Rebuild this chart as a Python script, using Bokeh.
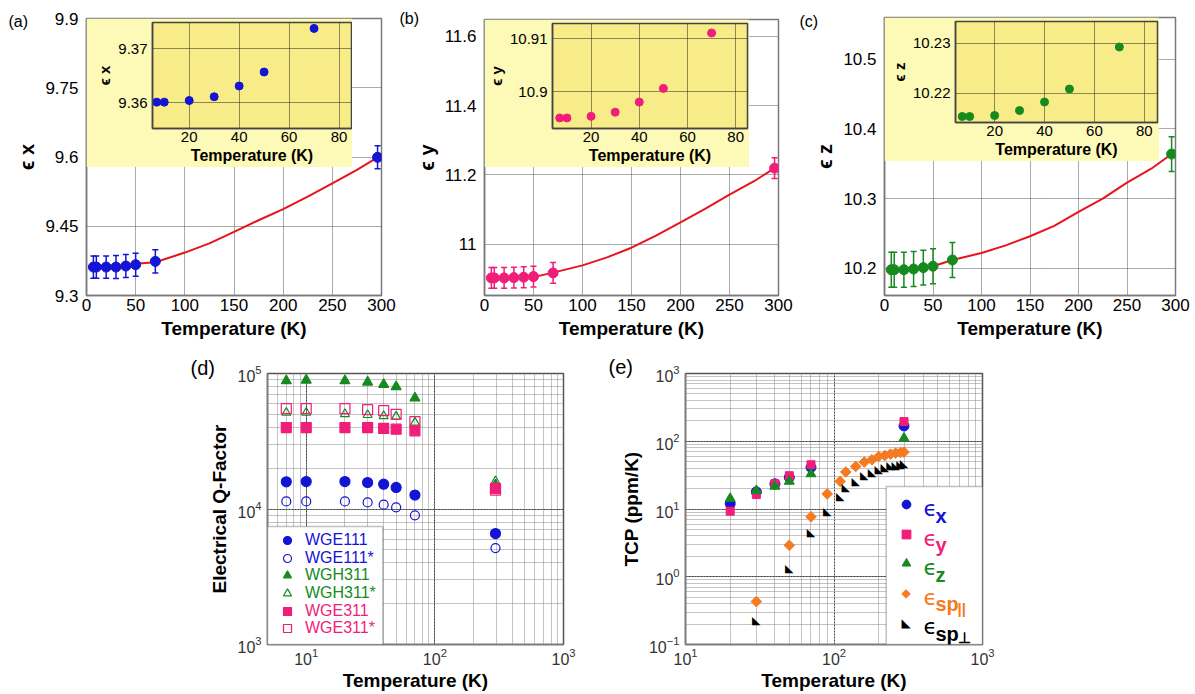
from bokeh.plotting import figure
from bokeh.models import (ColumnDataSource, Whisker, TeeHead, Label, Legend, LegendItem,
                          BoxAnnotation, GridBox, FixedTicker, Range1d,
                          CustomJSTickFormatter, LogTickFormatter)
from bokeh.layouts import column, row
from bokeh.embed import file_html
from bokeh.resources import INLINE
from bokeh.core.properties import value

# ---------------- data ----------------
T_main = [7, 10, 20, 30, 40, 50, 70, 296]
eps_x = [9.3616, 9.3616, 9.3616, 9.3616, 9.3638, 9.3667, 9.3739, 9.5993]
eps_x_err = [0.024, 0.024, 0.024, 0.025, 0.025, 0.025, 0.025, 0.025]
eps_y = [10.9027, 10.9027, 10.9027, 10.9037, 10.9047, 10.9066, 10.9171, 11.2197]
eps_y_err = [0.030, 0.030, 0.030, 0.030, 0.030, 0.030, 0.030, 0.030]
eps_z = [10.198, 10.198, 10.198, 10.199, 10.201, 10.203, 10.212, 10.364]
eps_z_err = [0.025, 0.025, 0.025, 0.025, 0.025, 0.025, 0.025, 0.025]

fit_T = [50, 70, 100, 125, 150, 175, 200, 225, 250, 275, 296]
fit_x = [9.369, 9.372, 9.393, 9.413, 9.438, 9.463, 9.487, 9.514, 9.543, 9.572, 9.599]
fit_y = [10.905, 10.918, 10.939, 10.962, 10.990, 11.025, 11.063, 11.102, 11.143, 11.182, 11.220]
fit_z = [10.203, 10.212, 10.222, 10.233, 10.246, 10.261, 10.281, 10.300, 10.323, 10.343, 10.364]

T_inset = [7, 10, 20, 30, 40, 50, 70]
inset_x = [9.3601, 9.3601, 9.3604, 9.3611, 9.3631, 9.3657, 9.3738]
inset_y = [10.8950, 10.8950, 10.8953, 10.8961, 10.8980, 10.9006, 10.9111]
inset_z = [10.2153, 10.2153, 10.2155, 10.2165, 10.2182, 10.2208, 10.2292]

x_ticks_main = [0, 50, 100, 150, 200, 250, 300]
a_yticks = [9.3, 9.45, 9.6, 9.75, 9.9]
b_yticks = [11.0, 11.2, 11.4, 11.6]
c_yticks = [10.2, 10.3, 10.4, 10.5]
inset_xticks = [20, 40, 60, 80]
a_inset_yticks = [9.36, 9.37]
b_inset_yticks = [10.9, 10.91]
c_inset_yticks = [10.22, 10.23]

# (d) Q-factor
T_q = [7, 10, 20, 30, 40, 50, 70, 296]
q_names = ["WGE111", "WGE111*", "WGH311", "WGH311*", "WGE311", "WGE311*"]
q_wge111 = [15870, 15950, 15950, 15690, 15250, 14420, 12670, 6590]
q_wge111s = [11380, 11380, 11380, 11190, 10760, 10285, 8985, 5146]
q_wgh311 = [88300, 89300, 88300, 86300, 82980, 79800, 65900, 15000]
q_wgh311s = [51400, 51400, 50300, 49500, 48600, 48100, 43450, 16000]
q_wge311 = [39900, 39900, 39900, 39900, 39300, 38800, 37750, 14190]
q_wge311s = [55070, 55070, 55070, 54080, 53150, 50000, 44170, 13800]

# (e) TCP
T_e = [20, 30, 40, 50, 70, 296]
tcp_x = [12.0, 17.9, 23.5, 29.3, 41.1, 168]
tcp_y = [9.3, 16.3, 23.6, 31.0, 45.0, 195]
tcp_z = [14.3, 18.6, 21.6, 25.6, 33.0, 111]
T_sp = [30, 50, 70, 90, 110, 120, 140, 160, 180, 200, 220, 240, 260, 280, 296]
tcp_sp_par = [0.43, 2.91, 7.67, 16.7, 25.6, 35.2, 42.5, 49.3, 53.3, 59.6, 61.6, 64.6, 66.8, 68.2, 69.2]
T_sp_perp = [30, 50, 70, 90, 110, 120, 140, 160, 180, 200, 220, 240, 260, 280, 296]
tcp_sp_perp = [0.225, 1.32, 4.47, 9.3, 15.1, 20.5, 25.6, 31.0, 34.7, 38.9, 41.1, 43.5, 44.6, 46.1, 47.7]

e_x_major = [10, 100, 1000]
e_x_minor = [20, 30, 40, 50, 60, 70, 80, 90, 200, 300, 400, 500, 600, 700, 800, 900]

# ---------------- style ----------------
FONT = "Liberation Sans"
BLUE = "#1414d4"
PINK = "#f01e78"
GREEN = "#168a1e"
ORANGE = "#f47b20"
RED = "#e8141c"
FRAME = "#7a7a7a"
Y_OUT = "#fdf9b6"
Y_IN = "#f7ec88"


def style_axes(p, tick_size, label_size, tick_color="black"):
    for ax in list(p.xaxis) + list(p.yaxis):
        ax.major_label_text_font = FONT
        ax.major_label_text_font_size = tick_size
        ax.major_label_text_color = tick_color
        ax.axis_label_text_font = FONT
        ax.axis_label_text_font_size = label_size
        ax.axis_label_text_font_style = "bold"
        ax.axis_label_text_color = "black"
        ax.axis_line_color = FRAME
        ax.axis_line_width = 1.5
        ax.major_tick_out = 0
        ax.major_tick_in = 0
        ax.minor_tick_out = 0
        ax.minor_tick_in = 0
        ax.major_label_standoff = 4
        ax.axis_label_standoff = 4


def add_tag(p, text, x, y, size):
    # placed in the "above" side panel (not clipped to the frame)
    p.add_layout(Label(x=x, y=y, x_units="screen", y_units="screen", text=text,
                       text_font=FONT, text_font_size=size, text_baseline="top",
                       text_color="black"), "above")


def main_panel(w, bl, br, bt, yr, yticks, ylabel, vals, errs, fitv, color):
    H, BB = 344, 49
    p = figure(width=w, height=H, x_range=Range1d(0, 300), y_range=Range1d(*yr),
               output_backend="svg", toolbar_location=None,
               min_border_left=bl, min_border_right=br, min_border_top=bt, min_border_bottom=BB)
    p.xaxis.ticker = FixedTicker(ticks=x_ticks_main)
    p.yaxis.ticker = FixedTicker(ticks=yticks)
    p.yaxis.formatter = CustomJSTickFormatter(code="return String(tick);")
    p.xaxis.axis_label = "Temperature (K)"
    p.yaxis.axis_label = ylabel
    style_axes(p, "17px", "19px")
    p.yaxis.major_label_standoff = 8
    p.yaxis.axis_label_text_font_size = "20px"
    p.xaxis.major_label_standoff = 3
    p.outline_line_color = FRAME
    p.outline_line_width = 1.5
    for g in (p.xgrid, p.ygrid):
        g.grid_line_color = "#555555"
        g.grid_line_dash = "1 1"
        g.grid_line_width = 1
    src = ColumnDataSource(dict(x=T_main, y=vals,
                                lo=[v - e for v, e in zip(vals, errs)],
                                hi=[v + e for v, e in zip(vals, errs)]))
    p.add_layout(Whisker(source=src, base="x", lower="lo", upper="hi",
                         line_color=color, line_width=1.5,
                         upper_head=TeeHead(size=6, line_color=color, line_width=1.5),
                         lower_head=TeeHead(size=6, line_color=color, line_width=1.5)))
    p.line(fit_T, fitv, line_color=RED, line_width=2)
    p.scatter("x", "y", source=src, size=10, color=color)
    return p


def inset_panel(w, h, bl, br, xr, yr, yticks, ylabel, vals, color):
    p = figure(width=w, height=h, x_range=Range1d(*xr), y_range=Range1d(*yr),
               output_backend="svg", toolbar_location=None,
               min_border_left=bl, min_border_right=br, min_border_top=4, min_border_bottom=39)
    p.border_fill_color = Y_OUT
    p.background_fill_color = Y_IN
    p.outline_line_color = "#444444"
    p.outline_line_width = 1.5
    p.xaxis.ticker = FixedTicker(ticks=inset_xticks)
    p.yaxis.ticker = FixedTicker(ticks=yticks)
    p.yaxis.formatter = CustomJSTickFormatter(code="return String(tick);")
    p.xaxis.axis_label = "Temperature (K)"
    p.yaxis.axis_label = ylabel
    style_axes(p, "15px", "16px")
    for ax in list(p.xaxis) + list(p.yaxis):
        ax.axis_line_color = "#444444"
        ax.major_label_standoff = 3
        ax.axis_label_standoff = 2
    p.yaxis.major_label_standoff = 5
    p.yaxis.axis_label_text_font_size = "15px"
    for g in (p.xgrid, p.ygrid):
        g.grid_line_color = "#222222"
        g.grid_line_dash = "1 1"
        g.grid_line_width = 1
    p.scatter(T_inset, vals, size=8, color=color)
    return p


# ---------------- top row ----------------
pa = main_panel(398, 86, 17, 18, (9.3, 9.9), a_yticks, "ϵ x", eps_x, eps_x_err, fit_x, BLUE)
add_tag(pa, "(a)", -78, 6, "16px")
ia = inset_panel(266, 149, 66, 1, (5.3, 85.0), (9.3552, 9.3749), a_inset_yticks, "ϵ x", inset_x, BLUE)
ga = GridBox(children=[(pa, 0, 0, 3, 3), (ia, 1, 1, 1, 1)],
             rows=["18px", "149px", "177px"], cols=["86px", "266px", "46px"])

pb = main_panel(400, 86, 20, 19, (10.852, 11.649), b_yticks, "ϵ y", eps_y, eps_y_err, fit_y, PINK)
add_tag(pb, "(b)", -85, 10, "16px")
ib = inset_panel(265, 148, 65, 2, (4.0, 84.9), (10.893, 10.9129), b_inset_yticks, "ϵ y", inset_y, PINK)
gb = GridBox(children=[(pb, 0, 0, 3, 3), (ib, 1, 1, 1, 1)],
             rows=["19px", "148px", "177px"], cols=["86px", "265px", "49px"])

pc = main_panel(397, 86, 20, 17, (10.161, 10.560), c_yticks, "ϵ z", eps_z, eps_z_err, fit_z, GREEN)
add_tag(pc, "(c)", -85, 5, "16px")
ic = inset_panel(275, 144, 71, 2, (4.3, 85.3), (10.2141, 10.2343), c_inset_yticks, "ϵ z", inset_z, GREEN)
gc = GridBox(children=[(pc, 0, 0, 3, 3), (ic, 1, 1, 1, 1)],
             rows=["17px", "144px", "183px"], cols=["86px", "275px", "36px"])


def log_panel(w, bl, br, bt, bb, xr, yr, ylabel):
    p = figure(width=w, height=350, x_axis_type="log", y_axis_type="log",
               x_range=Range1d(*xr), y_range=Range1d(*yr),
               output_backend="svg", toolbar_location=None,
               min_border_left=bl, min_border_right=br, min_border_top=bt, min_border_bottom=bb)
    p.xaxis.axis_label = "Temperature (K)"
    p.yaxis.axis_label = ylabel
    style_axes(p, "16px", "19px", tick_color="#333333")
    p.xaxis.major_label_standoff = 3
    p.xaxis.axis_label_standoff = 2
    p.yaxis.major_label_standoff = 6
    p.outline_line_color = "#555555"
    p.outline_line_width = 1.5
    for g in (p.xgrid, p.ygrid):
        g.grid_line_color = "#444444"
        g.grid_line_dash = "2 1"
        g.grid_line_width = 1
        g.minor_grid_line_color = "#888888"
        g.minor_grid_line_dash = "1 1"
        g.minor_grid_line_width = 1
    return p


# ---------------- (d) ----------------
pd_ = log_panel(420, 87, 37, 28, 50, (5, 1000), (1e3, 1e5), "Electrical Q-Factor")
add_tag(pd_, "(d)", -77, 17, "20px")
q_vals = [q_wge111, q_wge111s, q_wgh311, q_wgh311s, q_wge311, q_wge311s]
q_markers = ["circle", "circle", "triangle", "triangle", "square", "square"]
q_colors = [BLUE, BLUE, GREEN, GREEN, PINK, PINK]
q_filled = [True, False, True, False, True, False]
q_sizes = [10, 9, 10, 9, 10, 10]
d_renderers = []
for vals, mk, col, filled, sz in zip(q_vals, q_markers, q_colors, q_filled, q_sizes):
    r = pd_.scatter(T_q, vals, marker=mk, size=sz, line_color=col, line_width=1.2,
                    fill_color=col if filled else None)
    d_renderers.append(r)

pd_.add_layout(BoxAnnotation(left=0, right=115.3, bottom=0, top=118,
                             left_units="screen", right_units="screen",
                             bottom_units="screen", top_units="screen",
                             fill_color="white", fill_alpha=1.0,
                             line_color="#333333", line_width=1.5))
for i, (r, name, col) in enumerate(zip(d_renderers, q_names, q_colors)):
    cy = 104 - 17.66 * i
    pd_.add_layout(Legend(items=[LegendItem(label=name, renderers=[r])],
                          location=(10, cy - 10), padding=0, margin=0, spacing=0,
                          glyph_width=20, glyph_height=20, label_height=20,
                          label_standoff=8, label_text_font=FONT,
                          label_text_font_size="16px", label_text_color=col,
                          border_line_alpha=0, background_fill_alpha=0))

# ---------------- (e) ----------------
pe = log_panel(400, 85, 18, 29, 48, (10, 1000), (0.1, 1000), "TCP (ppm/K)")
add_tag(pe, "(e)", -77, 18, "20px")
pe.xaxis.ticker = FixedTicker(ticks=e_x_major, minor_ticks=e_x_minor)
pe.xaxis.formatter = LogTickFormatter()
re_x = pe.scatter(T_e, tcp_x, marker="circle", size=10, color=BLUE)
re_y = pe.scatter(T_e, tcp_y, marker="square", size=8, color=PINK)
re_z = pe.scatter(T_e, tcp_z, marker="triangle", size=10, color=GREEN)
re_p = pe.scatter(T_sp, tcp_sp_par, marker="square", angle=0.785398, size=7.5, color=ORANGE)
re_s = pe.text(x=T_sp_perp, y=tcp_sp_perp, text=value("◣"), text_font=value("DejaVu Sans"),
               text_font_size=value("11px"), text_align="center", text_baseline="middle",
               text_color="black")

pe.add_layout(BoxAnnotation(left=200.7, right=297, bottom=0, top=158,
                            left_units="screen", right_units="screen",
                            bottom_units="screen", top_units="screen",
                            fill_color="white", fill_alpha=1.0,
                            line_color="#333333", line_width=1.5))
e_entries = [(re_x, BLUE, "x", "", None), (re_y, PINK, "y", "", None),
             (re_z, GREEN, "z", "", None), (re_p, ORANGE, "sp", "||", "◆"),
             (re_s, "black", "sp", "⊥", "◣")]
for i, (r, col, sub, subsub, sym) in enumerate(e_entries):
    cy = 140 - 29.6 * i
    if sym is None:
        pe.add_layout(Legend(items=[LegendItem(label=" ", renderers=[r])],
                             location=(220.7 - 11, cy - 11), padding=0, margin=0, spacing=0,
                             glyph_width=22, glyph_height=22, label_height=22, label_width=2,
                             label_standoff=2, label_text_font=FONT, label_text_font_size="16px",
                             border_line_alpha=0, background_fill_alpha=0))
    else:
        pe.add_layout(Label(x=220.7, y=cy, x_units="screen", y_units="screen", text=sym,
                            text_font="DejaVu Sans", text_font_size="12px", text_color=col,
                            text_align="center", text_baseline="middle"))
    pe.add_layout(Label(x=238, y=cy - 4, x_units="screen", y_units="screen", text="ϵ",
                        text_font="DejaVu Sans", text_font_size="22px", text_color=col,
                        text_baseline="middle"))
    pe.add_layout(Label(x=250, y=cy - 11, x_units="screen", y_units="screen", text=sub,
                        text_font=FONT, text_font_size="20px", text_font_style="bold",
                        text_color=col, text_baseline="middle"))
    if subsub:
        pe.add_layout(Label(x=272, y=cy - 15, x_units="screen", y_units="screen", text=subsub,
                            text_font=FONT, text_font_size="15px", text_font_style="bold",
                            text_color=col, text_baseline="middle"))

gbottom = GridBox(children=[(pd_, 0, 1), (pe, 0, 2)],
                  rows=["350px"], cols=["180px", "420px", "400px"])

layout = column(row(ga, gb, gc), gbottom)

open("out.html", "w").write(file_html(layout, INLINE, title="chart"))
